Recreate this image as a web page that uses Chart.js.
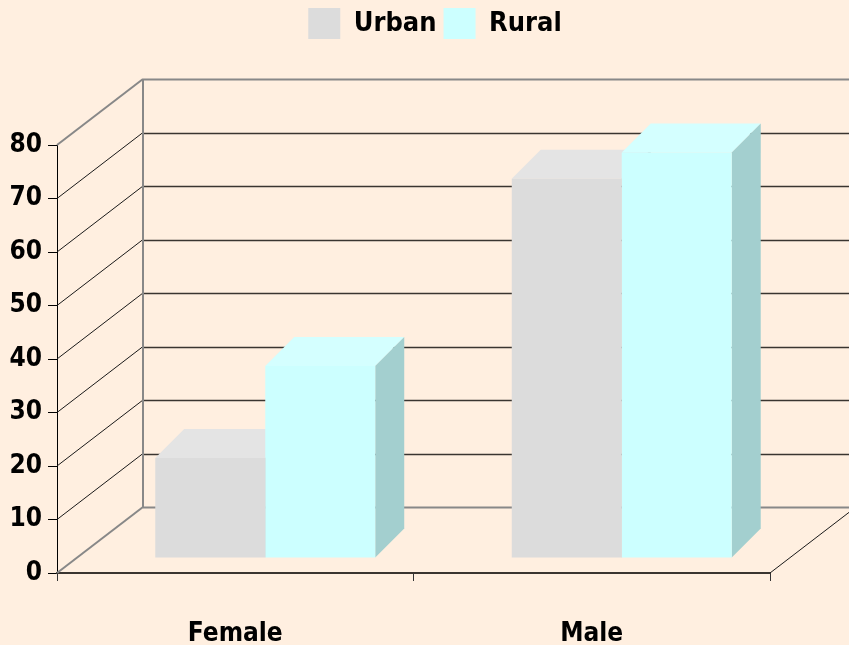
<!DOCTYPE html>
<html>
<head>
<meta charset="utf-8">
<script src="https://cdn.jsdelivr.net/npm/chart.js@4/dist/chart.umd.min.js"></script>
<style>
  html, body { margin: 0; padding: 0; background: #ffefe0; }
  #wrap { width: 849px; height: 645px; }
</style>
</head>
<body>
<div id="wrap"><canvas id="c" width="849" height="645"></canvas></div>
<script>
const categories = ['Female', 'Male'];
const seriesNames = ['Urban', 'Rural'];
const urbanValues = [18.7, 70.9];
const ruralValues = [35.9, 75.8];
const yTicks = [0, 10, 20, 30, 40, 50, 60, 70, 80];

const FONT = "'DejaVu Sans Condensed', 'DejaVu Sans', sans-serif";
const WALL_DX = 86, WALL_DY = -66;   // depth of the 3D walls
const BAR_DX = 30, BAR_DY = -15;     // bar plane offset from the front plane
const BAR_DEPTH = 29;                // bar depth
const faceColors = [
  { top: '#e4e4e4', side: '#b8b8b8' },
  { top: '#d4ffff', side: '#a3cfcf' }
];

const threeD = {
  id: 'threeD',
  beforeDatasetsDraw(chart) {
    const ctx = chart.ctx;
    const ys = chart.scales.y;
    const a = chart.chartArea;
    const yMin = yTicks[0], yMax = yTicks[yTicks.length - 1];
    ctx.save();
    ctx.lineCap = 'butt';
    // left wall diagonals
    yTicks.forEach(v => {
      const p = ys.getPixelForValue(v);
      const edge = (v === yMin || v === yMax);
      ctx.beginPath();
      ctx.strokeStyle = edge ? '#888888' : '#1a1a1a';
      ctx.lineWidth = edge ? 2 : 1;
      ctx.moveTo(a.left, p);
      ctx.lineTo(a.left + WALL_DX, p + WALL_DY);
      ctx.stroke();
    });
    // back wall horizontal lines
    yTicks.forEach(v => {
      const p = Math.round(ys.getPixelForValue(v) + WALL_DY) + 0.5;
      const edge = (v === yMin || v === yMax);
      ctx.beginPath();
      ctx.strokeStyle = edge ? '#888888' : '#3a3530';
      ctx.lineWidth = edge ? 2 : 1.5;
      ctx.moveTo(a.left + WALL_DX, p);
      ctx.lineTo(a.right + WALL_DX, p);
      ctx.stroke();
    });
    // back wall left edge
    ctx.beginPath();
    ctx.strokeStyle = '#888888';
    ctx.lineWidth = 2;
    const bx = a.left + WALL_DX;
    ctx.moveTo(bx, ys.getPixelForValue(yMax) + WALL_DY);
    ctx.lineTo(bx, ys.getPixelForValue(yMin) + WALL_DY);
    ctx.stroke();
    // floor right edge
    const p0 = ys.getPixelForValue(yMin);
    ctx.beginPath();
    ctx.strokeStyle = '#1a1a1a';
    ctx.lineWidth = 1;
    ctx.moveTo(a.right, p0);
    ctx.lineTo(a.right + WALL_DX, p0 + WALL_DY);
    ctx.stroke();
    ctx.restore();

    // bar plane
    ctx.save();
    ctx.translate(BAR_DX, BAR_DY);
    const d = BAR_DEPTH;
    chart.data.datasets.forEach((ds, di) => {
      const meta = chart.getDatasetMeta(di);
      meta.data.forEach(el => {
        const l = el.x - el.width / 2, r = el.x + el.width / 2;
        const t = el.y, b = el.base;
        ctx.fillStyle = faceColors[di].top;
        ctx.beginPath();
        ctx.moveTo(l, t); ctx.lineTo(r, t); ctx.lineTo(r + d, t - d); ctx.lineTo(l + d, t - d);
        ctx.closePath(); ctx.fill();
        ctx.fillStyle = faceColors[di].side;
        ctx.beginPath();
        ctx.moveTo(r, t); ctx.lineTo(r + d, t - d); ctx.lineTo(r + d, b - d); ctx.lineTo(r, b);
        ctx.closePath(); ctx.fill();
      });
    });
  },
  afterDatasetsDraw(chart) {
    chart.ctx.restore();
  }
};

const bg = {
  id: 'bg',
  beforeDraw(chart) {
    const ctx = chart.ctx;
    ctx.save();
    ctx.fillStyle = '#ffefe0';
    ctx.fillRect(0, 0, chart.width, chart.height);
    ctx.restore();
  }
};

new Chart(document.getElementById('c'), {
  type: 'bar',
  data: {
    labels: categories,
    datasets: [
      { label: seriesNames[0], data: urbanValues, backgroundColor: '#dcdcdc', borderWidth: 0,
        xAxisID: 'x', yAxisID: 'y', clip: false },
      { label: seriesNames[1], data: ruralValues, backgroundColor: '#ccffff', borderWidth: 0,
        xAxisID: 'x', yAxisID: 'y', clip: false }
    ]
  },
  options: {
    responsive: false,
    animation: false,
    devicePixelRatio: 1,
    layout: { padding: { left: 0, top: 1, bottom: 0, right: -21 } },
    datasets: { bar: { categoryPercentage: 0.617, barPercentage: 1.0 } },
    plugins: {
      legend: {
        position: 'top',
        labels: {
          boxWidth: 32, boxHeight: 31, padding: 7,
          color: '#000', font: { family: FONT, size: 27, weight: 'bold' }
        }
      },
      tooltip: { enabled: false },
      title: { display: false }
    },
    scales: {
      x: {
        type: 'category',
        position: 'bottom',
        grid: { display: true, drawOnChartArea: false, drawTicks: true, tickLength: 8, color: '#333', lineWidth: 1, offset: true },
        border: { display: true, color: '#3a3530', width: 2 },
        ticks: { color: '#000', font: { family: FONT, size: 26, weight: 'bold' }, padding: 38, maxRotation: 0 },
        afterFit: s => { s.height = 72; }
      },
      xTop: {
        type: 'category',
        position: 'top',
        display: true,
        grid: { display: false },
        border: { display: false },
        ticks: { display: false },
        afterFit: s => { s.height = 96; }
      },
      y: {
        type: 'linear',
        min: yTicks[0], max: yTicks[yTicks.length - 1],
        position: 'left',
        afterBuildTicks: s => { s.ticks = yTicks.map(v => ({ value: v })); },
        grid: { display: true, drawOnChartArea: false, drawTicks: true, tickLength: 9, color: '#000', lineWidth: 1 },
        border: { display: true, color: '#000', width: 1 },
        ticks: { color: '#000', font: { family: FONT, size: 26, weight: 'bold' }, padding: 6 },
        afterFit: s => { s.width = 57; }
      },
      yR: {
        type: 'linear',
        position: 'right',
        display: true,
        grid: { display: false },
        border: { display: false },
        ticks: { display: false },
        afterFit: s => { s.width = 100; }
      }
    }
  },
  plugins: [bg, threeD]
});
</script>
</body>
</html>
